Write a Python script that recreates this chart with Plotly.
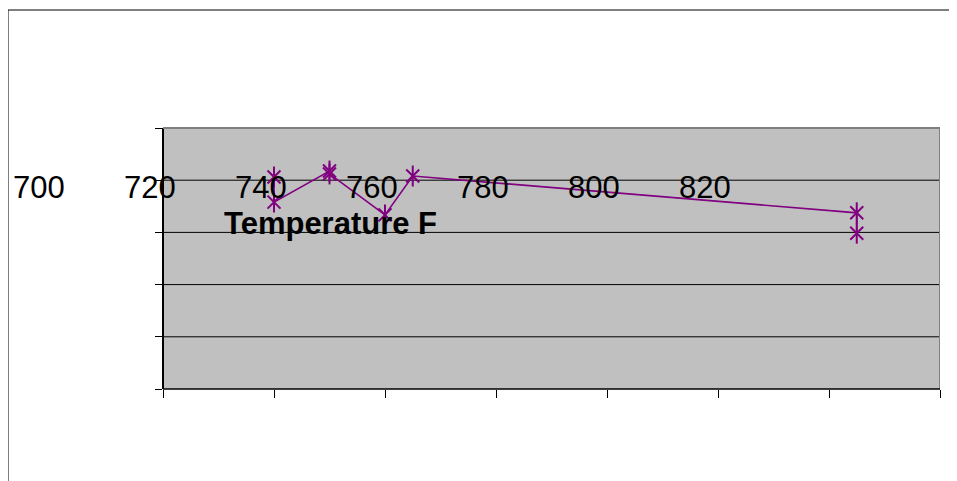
import plotly.graph_objects as go

# Data
temperature = [740, 740, 750, 750, 760, 765, 845, 845]
values = [81.2, 71.6, 83.5, 82.4, 66.7, 81.6, 67.5, 59.7]
tick_labels = [700, 720, 740, 760, 780, 800, 820]
x_ticks = [720, 740, 760, 780, 800, 820, 840, 860]
y_grid = [20, 40, 60, 80]
x_title = "Temperature F"

W, H = 957, 481
OFF = 8  # page body offset
L, R, T, B = 0, 25, 0, 100
pw, ph = W - L - R, H - T - B  # 932 x 381

def px_x(px):
    return (px - OFF) / pw

def px_y(py):
    return (ph - (py - OFF)) / ph

XMIN, XMAX = 720, 860
FONT = "Liberation Sans, Arial"
PURPLE = "#800080"

fig = go.Figure()
fig.add_trace(go.Scatter(
    x=temperature, y=values, mode="lines+markers",
    line=dict(color=PURPLE, width=1.6),
    marker=dict(symbol="x-thin-open", size=13, color=PURPLE,
                line=dict(color=PURPLE, width=2)),
    showlegend=False, hoverinfo="skip",
))
fig.add_trace(go.Scatter(
    x=temperature, y=values, mode="markers",
    marker=dict(symbol="line-ns-open", size=15, color=PURPLE,
                line=dict(color=PURPLE, width=2)),
    showlegend=False, hoverinfo="skip",
))

annotations = []
for v in tick_labels:
    annotations.append(dict(
        x=v, xref="x", xshift=-13, y=px_y(187), yref="paper", text=str(v),
        showarrow=False, xanchor="center", yanchor="middle",
        font=dict(family=FONT, size=31, color="black"),
    ))
annotations.append(dict(
    x=px_x(330.5), xref="paper", y=px_y(223.5), yref="paper",
    text="<b>" + x_title + "</b>", showarrow=False,
    xanchor="center", yanchor="middle",
    font=dict(family=FONT, size=31, color="black"),
))

shapes = [
    # gray plot area
    dict(type="rect", xref="x", yref="y domain", x0=XMIN, x1=XMAX, y0=0, y1=1,
         fillcolor="#C0C0C0", line=dict(width=0), layer="below"),
]
for g in y_grid:
    shapes.append(dict(type="line", xref="x", yref="y", x0=XMIN, x1=XMAX,
                       y0=g, y1=g, line=dict(color="black", width=1),
                       layer="below"))
shapes += [
    # plot area top and right border
    dict(type="line", xref="x", yref="y domain", x0=XMIN, x1=XMAX, y0=1, y1=1,
         line=dict(color="#808080", width=2)),
    dict(type="line", xref="x", yref="y domain", x0=XMAX, x1=XMAX, y0=0, y1=1,
         line=dict(color="#808080", width=2)),
    # x axis line
    dict(type="line", xref="x", yref="y domain", x0=XMIN, x1=XMAX, y0=0, y1=0,
         line=dict(color="black", width=1.5)),
    # outer chart border (top and left)
    dict(type="line", xref="paper", yref="paper", x0=px_x(8), x1=1.05,
         y0=px_y(10), y1=px_y(10), line=dict(color="black", width=1)),
    dict(type="line", xref="paper", yref="paper", x0=px_x(8), x1=px_x(8),
         y0=px_y(10), y1=-0.4, line=dict(color="black", width=1)),
]

fig.update_layout(
    width=W, height=H,
    margin=dict(l=L, r=R, t=T, b=B, autoexpand=False),
    paper_bgcolor="white", plot_bgcolor="white",
    xaxis=dict(domain=[px_x(52), 1], range=[700, XMAX], tickvals=x_ticks,
               showticklabels=False, ticks="outside", ticklen=8,
               tickcolor="black", showline=False, showgrid=False,
               zeroline=False, anchor="y"),
    yaxis=dict(domain=[0, px_y(128)], range=[0, 100], tickmode="linear",
               tick0=0, dtick=20, showticklabels=False, ticks="outside",
               ticklen=7, tickcolor="black", showline=True, linecolor="black",
               linewidth=1.5, showgrid=False, zeroline=False,
               anchor="free", position=px_x(163)),
    annotations=annotations, shapes=shapes,
)

fig.write_html("out.html")
